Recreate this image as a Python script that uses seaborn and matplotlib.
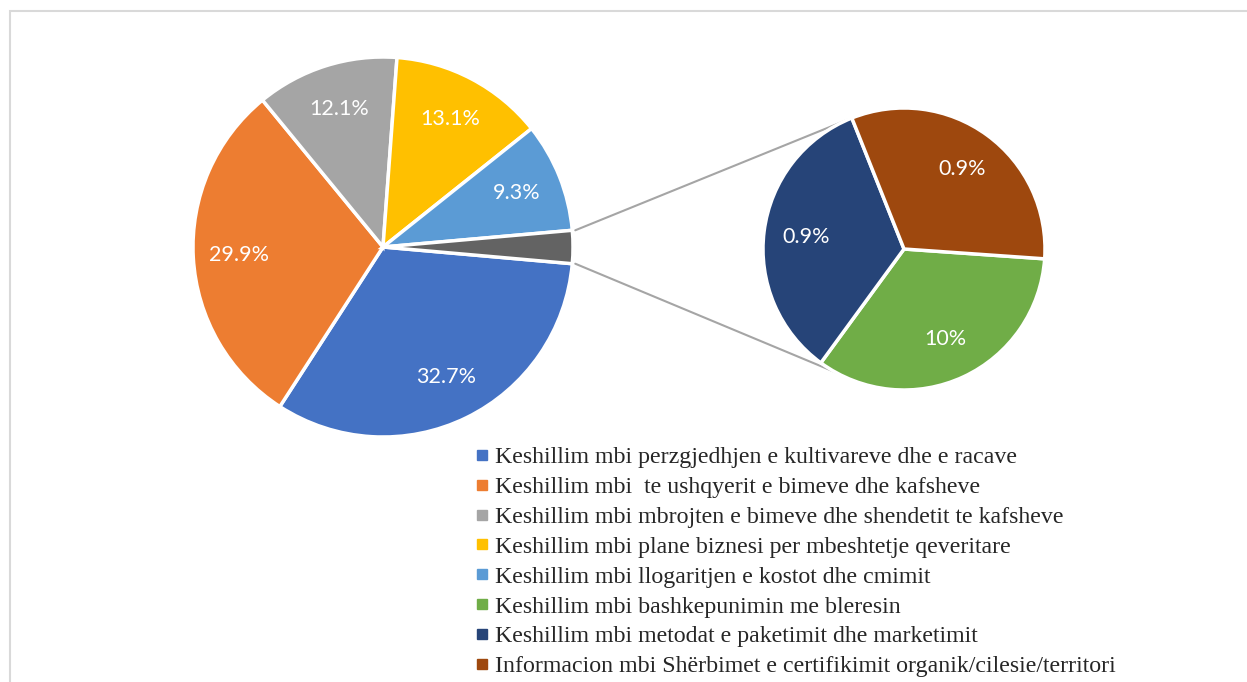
import numpy as np
import matplotlib.pyplot as plt
import seaborn as sns
from matplotlib.lines import Line2D
from matplotlib.patches import Rectangle

# data
main_labels = [
    "Keshillim mbi perzgjedhjen e kultivareve dhe e racave",
    "Keshillim mbi  te ushqyerit e bimeve dhe kafsheve",
    "Keshillim mbi mbrojten e bimeve dhe shendetit te kafsheve",
    "Keshillim mbi plane biznesi per mbeshtetje qeveritare",
    "Keshillim mbi llogaritjen e kostot dhe cmimit",
]
main_values = [32.7, 29.9, 12.1, 13.1, 9.3]
main_colors = ["#4472C4", "#ED7D31", "#A5A5A5", "#FFC000", "#5B9BD5"]

sub_labels = [
    "Keshillim mbi bashkepunimin me bleresin",
    "Keshillim mbi metodat e paketimit dhe marketimit",
    "Informacion mbi Shërbimet e certifikimit organik/cilesie/territori",
]
sub_values = [0.95, 0.95, 0.9]
sub_texts = ["10%", "0.9%", "0.9%"]
sub_colors = ["#70AD47", "#264478", "#9E480E"]
other_color = "#636363"

sns.set_theme(style="white")
plt.rcParams["font.family"] = ["Lato", "DejaVu Sans"]

W, H = 1247, 682
fig = plt.figure(figsize=(W / 100, H / 100), dpi=100)
ax = fig.add_axes([0, 0, 1, 1])
ax.set_xlim(0, W)
ax.set_ylim(0, H)
ax.set_aspect("equal")
ax.axis("off")

# chart frame
fig.patches.append(Rectangle((10 / W, -0.1), 1.2, (H - 11) / H + 0.1, transform=fig.transFigure,
                             fill=False, edgecolor="#D9D9D9", linewidth=1.5))

# main pie
c1, r1 = (383, H - 247), 190
other = sum(sub_values)
vals1 = main_values + [other]
total1 = sum(vals1)
start1 = -other / total1 * 180
wedges1, _ = ax.pie(vals1, colors=main_colors + [other_color], center=c1, radius=r1,
                    startangle=start1, counterclock=False,
                    wedgeprops=dict(edgecolor="white", linewidth=2.5))
ang = start1
for v in vals1:
    span = v / total1 * 360
    mid = np.deg2rad(ang - span / 2)
    ang -= span
    if v == other:
        continue
    ax.text(c1[0] + 0.76 * r1 * np.cos(mid), c1[1] + 0.76 * r1 * np.sin(mid), f"{v}%",
            ha="center", va="center", color="white", fontsize=15.5)

# second pie
c2, r2 = (904, H - 249), 141
total2 = sum(sub_values)
start2 = -4
wedges2, _ = ax.pie(sub_values, colors=sub_colors, center=c2, radius=r2,
                    startangle=start2, counterclock=False,
                    wedgeprops=dict(edgecolor="white", linewidth=2.5))
ang = start2
for v, t in zip(sub_values, sub_texts):
    span = v / total2 * 360
    mid = np.deg2rad(ang - span / 2)
    ang -= span
    ax.text(c2[0] + 0.7 * r2 * np.cos(mid), c2[1] + 0.7 * r2 * np.sin(mid), t,
            ha="center", va="center", color="white", fontsize=15.5)

# connector lines
for a1, a2 in [(start1 * -1, 113.5), (start1, 241)]:
    p1 = (c1[0] + r1 * np.cos(np.deg2rad(a1)) + 3, c1[1] + r1 * np.sin(np.deg2rad(a1)))
    p2 = (c2[0] + r2 * np.cos(np.deg2rad(a2)), c2[1] + r2 * np.sin(np.deg2rad(a2)))
    ax.plot([p1[0], p2[0]], [p1[1], p2[1]], color="#A5A5A5", linewidth=1.5, zorder=0)

ax.set_xlim(0, W)
ax.set_ylim(0, H)

# legend
handles = [Line2D([], [], marker="s", linestyle="none", color=c, markersize=6.5)
           for c in main_colors + sub_colors]
ax.legend(handles, main_labels + sub_labels, loc="upper left",
          bbox_to_anchor=(466 / W, (H - 437) / H), frameon=False,
          prop=dict(family="Liberation Serif", size=17.2),
          handlelength=0.5, handletextpad=0.3, labelspacing=0.34, borderaxespad=0)

fig.savefig("out.png", dpi=100)
